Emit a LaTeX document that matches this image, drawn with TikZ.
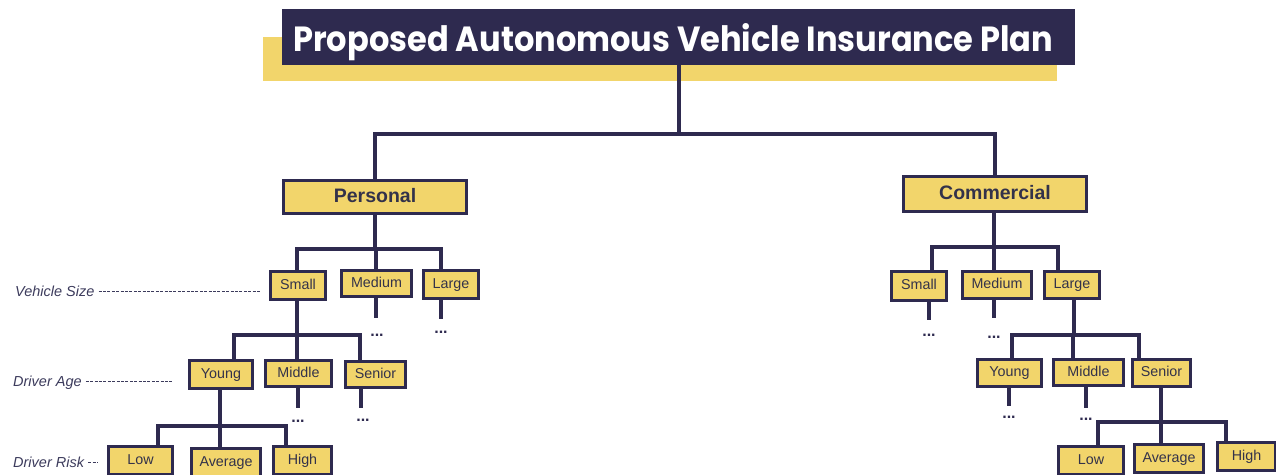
\documentclass[tikz,border=0pt]{standalone}
\usepackage{fontspec}
\setmainfont{Liberation Sans}
\newfontfamily\titlefont{Poppins}
\usepackage{graphicx}
\definecolor{navy}{HTML}{2E2A4F}
\definecolor{yel}{HTML}{F2D56B}
\definecolor{lbl}{HTML}{3C3B5C}
\definecolor{txt}{HTML}{33324A}
\begin{document}
\begin{tikzpicture}[x=1pt,y=-1pt,
 box/.style={draw=navy, fill=yel, line width=3pt, inner sep=0pt, text=txt, text height=10pt, text depth=3pt, font=\fontsize{14.3}{16}\selectfont},
 big/.style={box, text height=14pt, text depth=4pt, font=\fontsize{19.5}{22}\selectfont\bfseries},
 conn/.style={draw=navy, line width=3.2pt},
 dots/.style={text=navy, font=\fontsize{16}{18}\selectfont\bfseries, inner sep=0pt, anchor=base},
 lab/.style={text=lbl, font=\fontsize{14.5}{16}\selectfont\itshape, inner sep=0pt, anchor=base west},
 lead/.style={draw=lbl, line width=0.8pt, dash pattern=on 3pt off 1.4pt}]
\useasboundingbox (0,0) rectangle (1276,474);
\clip (0,0) rectangle (1276,474);

% title
\fill[yel] (263,37) rectangle (1057,81);
\node[fill=navy, minimum width=793pt, minimum height=56pt, inner sep=0pt, anchor=north west] (title) at (282,9) {};
\node[anchor=base west, inner sep=0pt, text=white] (tt) at (293,51) {\resizebox{760pt}{28pt}{\titlefont\bfseries Proposed Autonomous Vehicle Insurance Plan}};

% level 1
\node[big, minimum width=183pt, minimum height=33pt] (pers) at (375,197) {Personal};
\node[big, minimum width=183pt, minimum height=35pt] (comm) at (995,194) {Commercial};

% personal branch
\node[box, minimum width=55pt, minimum height=28pt] (ps) at (298,285.5) {Small};
\node[box, minimum width=70pt, minimum height=26pt] (pm) at (376.5,283.5) {Medium};
\node[box, minimum width=55pt, minimum height=28pt] (pl) at (451,284.5) {Large};
\node[box, minimum width=63pt, minimum height=28pt] (py) at (221,374.5) {Young};
\node[box, minimum width=66pt, minimum height=26pt] (pmi) at (298.5,373.5) {Middle};
\node[box, minimum width=60pt, minimum height=26pt] (pse) at (375.5,374.5) {Senior};
\node[box, minimum width=64pt, minimum height=28pt] (plo) at (140.5,460.5) {Low};
\node[box, minimum width=69pt, minimum height=28pt] (pav) at (226,462.5) {Average};
\node[box, minimum width=58pt, minimum height=28pt] (phi) at (302.5,460.5) {High};

% commercial branch
\node[box, minimum width=55pt, minimum height=29pt] (cs) at (919,286) {Small};
\node[box, minimum width=69pt, minimum height=27pt] (cm) at (997,285) {Medium};
\node[box, minimum width=55pt, minimum height=27pt] (cl) at (1072,285) {Large};
\node[box, minimum width=64pt, minimum height=27pt] (cy) at (1009.5,373) {Young};
\node[box, minimum width=70pt, minimum height=26pt] (cmi) at (1088.5,372.5) {Middle};
\node[box, minimum width=58pt, minimum height=27pt] (cse) at (1161.5,373) {Senior};
\node[box, minimum width=65pt, minimum height=28pt] (clo) at (1091,460.5) {Low};
\node[box, minimum width=69pt, minimum height=28pt] (cav) at (1169,458.5) {Average};
\node[box, minimum width=58pt, minimum height=28pt] (chi) at (1246.5,456.5) {High};

% bus coordinates
\coordinate (tb) at (679,134);
\coordinate (pb) at (375,249);
\coordinate (psb) at (297,335);
\coordinate (pyb) at (220,426);
\coordinate (cb) at (994,247);
\coordinate (clb) at (1074,335);
\coordinate (cseb) at (1161,422);

% connectors
\draw[conn] (title.south -| tb) -- (tb);
\draw[conn] (pers.north) |- (tb);
\draw[conn] (comm.north) |- (tb);

\draw[conn] (pers.south -| pb) -- (pb);
\draw[conn] ([xshift=-1pt]ps.north) |- (pb);
\draw[conn] ([xshift=-0.5pt]pm.north) |- (pb);
\draw[conn] ([xshift=-10pt]pl.north) |- (pb);

\draw[conn] (ps.south -| psb) -- (psb);
\draw[conn] ([xshift=13pt]py.north) |- (psb);
\draw[conn] ([xshift=-1.5pt]pmi.north) |- (psb);
\draw[conn] ([xshift=-15.5pt]pse.north) |- (psb);

\draw[conn] (py.south -| pyb) -- (pyb);
\draw[conn] ([xshift=17.5pt]plo.north) |- (pyb);
\draw[conn] ([xshift=-6pt]pav.north) |- (pyb);
\draw[conn] ([xshift=-16.5pt]phi.north) |- (pyb);

\draw[conn] (comm.south -| cb) -- (cb);
\draw[conn] ([xshift=13pt]cs.north) |- (cb);
\draw[conn] ([xshift=-3pt]cm.north) |- (cb);
\draw[conn] ([xshift=-14pt]cl.north) |- (cb);

\draw[conn] (cl.south -| clb) -- (clb);
\draw[conn] ([xshift=2.5pt]cy.north) |- (clb);
\draw[conn] ([xshift=-15.5pt]cmi.north) |- (clb);
\draw[conn] ([xshift=-22.5pt]cse.north) |- (clb);

\draw[conn] (cse.south -| cseb) -- (cseb);
\draw[conn] ([xshift=7pt]clo.north) |- (cseb);
\draw[conn] ([xshift=-8pt]cav.north) |- (cseb);
\draw[conn] ([xshift=-20.5pt]chi.north) |- (cseb);

% stubs and dots
\draw[conn] ([xshift=-0.5pt]pm.south) -- ++(0,20) coordinate (pme);
\node[dots] (pmd) at (377,336) {...};
\draw[conn] ([xshift=-10pt]pl.south) -- ++(0,19) coordinate (ple);
\node[dots] (pld) at (441,333) {...};
\draw[conn] ([xshift=-0.5pt]pmi.south) -- ++(0,20) coordinate (pmie);
\node[dots] (pmid) at (298,422) {...};
\draw[conn] ([xshift=-14.5pt]pse.south) -- ++(0,19) coordinate (psee);
\node[dots] (psed) at (363,421) {...};
\draw[conn] ([xshift=10pt]cs.south) -- ++(0,18) coordinate (cse2);
\node[dots] (csd) at (929,336) {...};
\draw[conn] ([xshift=-3pt]cm.south) -- ++(0,18) coordinate (cme);
\node[dots] (cmd) at (994,338) {...};
\draw[conn] ([xshift=-0.5pt]cy.south) -- ++(0,18) coordinate (cye);
\node[dots] (cyd) at (1009,418) {...};
\draw[conn] ([xshift=-2.5pt]cmi.south) -- ++(0,21) coordinate (cmie);
\node[dots] (cmid) at (1086,420) {...};

% level labels
\node[lab] (vs) at (15,296) {Vehicle Size};
\draw[lead] ([xshift=4pt,yshift=5pt]vs.base east) -- ++(161,0) coordinate (vse);
\node[lab] (da) at (13,386) {Driver Age};
\draw[lead] ([xshift=4pt,yshift=5pt]da.base east) -- ++(87,0) coordinate (dae);
\node[lab] (dr) at (13,467) {Driver Risk};
\draw[lead] ([xshift=4pt,yshift=5pt]dr.base east) -- ++(10,0) coordinate (dre);
\end{tikzpicture}
\end{document}
